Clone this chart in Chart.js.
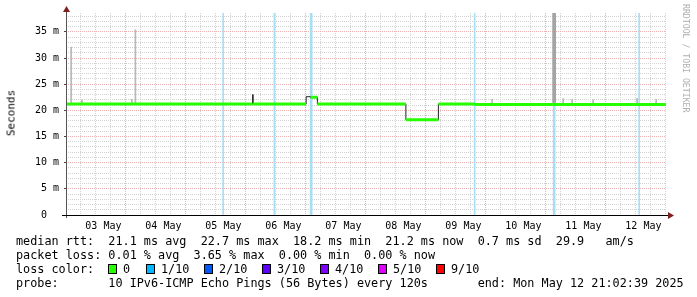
<!DOCTYPE html>
<html>
<head>
<meta charset="utf-8">
<script src="https://cdn.jsdelivr.net/npm/chart.js@4.4.1/dist/chart.umd.min.js"></script>
<style>
  body { margin: 0; background: #fff; }
  #wrap { position: relative; width: 697px; height: 297px; overflow: hidden; font-family: "DejaVu Sans Mono", monospace; color: #000; }
  #chart { position: absolute; left: 0; top: 0; }
  .ylabel { position: absolute; left: 11px; top: 113px; transform: translate(-50%, -50%) rotate(-90deg); font: normal 11px "DejaVu Sans Mono", monospace; color: #000; white-space: nowrap; }
  .credit { position: absolute; left: 681px; top: 4px; writing-mode: vertical-rl; font-size: 8.2px; color: #b0b0b0; white-space: nowrap; }
  .leg { position: absolute; font-size: 11.8px; white-space: pre; line-height: 14px; }
  .sw { position: absolute; top: 264px; width: 7px; height: 8px; border: 1px solid #000; }
</style>
</head>
<body>
<div id="wrap">
  <canvas id="chart" width="697" height="297"></canvas>
  <div class="ylabel">Seconds</div>
  <div class="credit">RRDTOOL / TOBI OETIKER</div>
  <div class="leg" style="left:16px;top:234px">median rtt:  21.1 ms avg  22.7 ms max  18.2 ms min  21.2 ms now  0.7 ms sd  29.9   am/s</div>
  <div class="leg" style="left:16px;top:248px">packet loss: 0.01 % avg  3.65 % max  0.00 % min  0.00 % now</div>
  <div class="leg" style="left:16px;top:262px">loss color:</div>
  <div id="losslegend"></div>
  <div class="leg" style="left:16px;top:276px">probe:       10 IPv6-ICMP Echo Pings (56 Bytes) every 120s       end: Mon May 12 21:02:39 2025</div>
</div>
<script>
// x = hours since 03 May 00:00, y = milliseconds
const X_MIN = -2.956;
const X_MAX = 237.044;
const Y_MAX = 38.6;

const dayLabels = ['03 May', '04 May', '05 May', '06 May', '07 May', '08 May', '09 May', '10 May', '11 May', '12 May'];

// median rtt, one value per step (start hour of the step)
const stepTimes  = [-2.956, 71.7, 71.9, 93.1, 94.9, 97.6, 133.0, 146.0, 160.5];
const stepValues = [21.2,   23.0, 21.2, 22.6, 22.5, 21.2, 18.2,  21.2,  21.1];
const stepLoss0  = [true,   false, true, false, true, true, true, true, true];

// hours with some packet loss (1/10)
const lossTimes     = [59.9, 80.4, 160.5, 226.3];
const lossTimesWide = [95.1, 192.3];

// smoke (spread of the pings)
const smokeTimes = [-0.9, 3.4, 23.4, 24.8, 167.5, 195.9, 199.5, 207.9, 225.5, 233.1];
const smokeLow   = [21.4, 21.4, 21.4, 21.4, 21.4, 21.4, 21.4, 21.4, 21.4, 21.4];
const smokeHigh  = [32.1, 22.0, 22.1, 35.4, 22.1, 22.2, 22.1, 22.0, 22.3, 22.1];
const bigSmokeTimes = [192.3];
const bigSmokeLow   = [21.5];
const bigSmokeHigh  = [38.6];

const lossLabels = ['0', '1/10', '2/10', '3/10', '4/10', '5/10', '9/10'];
const lossColors = ['#26ff00', '#00b8ff', '#0059ff', '#5e00ff', '#7e00ff', '#dd00ff', '#ff0000'];
const lossLegendX = [108, 146, 204, 262, 320, 378, 436];

// legend boxes
const ll = document.getElementById('losslegend');
lossLabels.forEach((lab, i) => {
  const b = document.createElement('div');
  b.className = 'sw';
  b.style.left = lossLegendX[i] + 'px';
  b.style.background = lossColors[i];
  ll.appendChild(b);
  const t = document.createElement('div');
  t.className = 'leg';
  t.style.left = (lossLegendX[i] + 15) + 'px';
  t.style.top = '262px';
  t.textContent = lab;
  ll.appendChild(t);
});

// black median line (stepped)
const medianData = stepTimes.map((t, i) => ({x: t, y: stepValues[i]}));
medianData.push({x: X_MAX, y: stepValues[stepValues.length - 1]});

// green segments only where loss is 0
const greenData = [];
stepTimes.forEach((t, i) => {
  if (!stepLoss0[i]) return;
  const end = i + 1 < stepTimes.length ? stepTimes[i + 1] : X_MAX;
  greenData.push({x: t, y: stepValues[i]}, {x: end, y: stepValues[i]}, {x: end, y: null});
});

const MINOR = '#d2d2d2';
const MAJOR = '#ebb0b0';

const axesPlugin = {
  id: 'rrdaxes',
  afterDraw(chart) {
    const {ctx, chartArea: a} = chart;
    ctx.save();
    // y axis
    ctx.strokeStyle = '#555';
    ctx.lineWidth = 1;
    ctx.beginPath();
    ctx.moveTo(a.left + 0.5, a.bottom + 3);
    ctx.lineTo(a.left + 0.5, a.top - 4);
    ctx.stroke();
    // x axis
    ctx.strokeStyle = '#000';
    ctx.beginPath();
    ctx.moveTo(a.left - 4, a.bottom + 0.5);
    ctx.lineTo(a.right + 4, a.bottom + 0.5);
    ctx.stroke();
    // arrows
    ctx.fillStyle = '#7f1f1f';
    ctx.beginPath();
    ctx.moveTo(a.left - 3, a.top - 1);
    ctx.lineTo(a.left + 0.5, a.top - 7);
    ctx.lineTo(a.left + 4, a.top - 1);
    ctx.closePath();
    ctx.fill();
    ctx.beginPath();
    ctx.moveTo(a.right + 2, a.bottom - 3);
    ctx.lineTo(a.right + 8, a.bottom + 0.5);
    ctx.lineTo(a.right + 2, a.bottom + 4);
    ctx.closePath();
    ctx.fill();
    ctx.restore();
  }
};

new Chart(document.getElementById('chart'), {
  type: 'line',
  data: {
    datasets: [
      {
        type: 'bar',
        data: lossTimes.map(t => ({x: t, y: Y_MAX})),
        backgroundColor: '#a8def4',
        barThickness: 1,
        grouped: false,
        order: 6
      },
      {
        type: 'bar',
        data: lossTimesWide.map(t => ({x: t, y: Y_MAX})),
        backgroundColor: '#a8def4',
        barThickness: 2,
        grouped: false,
        order: 5
      },
      {
        type: 'bar',
        data: smokeTimes.map((t, i) => ({x: t, y: [smokeLow[i], smokeHigh[i]]})),
        backgroundColor: '#b8b8b8',
        barThickness: 1,
        grouped: false,
        order: 4
      },
      {
        type: 'bar',
        data: bigSmokeTimes.map((t, i) => ({x: t, y: [bigSmokeLow[i], bigSmokeHigh[i]]})),
        backgroundColor: '#a4a4a4',
        barThickness: 3,
        grouped: false,
        order: 3
      },
      {
        data: medianData,
        borderColor: '#202020',
        borderWidth: 1,
        stepped: true,
        pointRadius: 0,
        order: 2
      },
      {
        data: greenData,
        borderColor: '#26ff00',
        borderWidth: 3,
        borderCapStyle: 'butt',
        spanGaps: false,
        pointRadius: 0,
        order: 1
      }
    ]
  },
  options: {
    responsive: false,
    animation: false,
    devicePixelRatio: 1,
    layout: {padding: {top: 13, right: 31, left: 0, bottom: 0}},
    plugins: {legend: {display: false}, tooltip: {enabled: false}},
    scales: {
      x: {
        type: 'linear',
        min: X_MIN,
        max: X_MAX,
        offset: false,
        afterBuildTicks(scale) {
          const t = [];
          for (let h = 0; h <= X_MAX; h += 6) t.push({value: h});
          scale.ticks = t;
        },
        afterFit(scale) { scale.height = 82; },
        border: {display: false, dash: [1, 1]},
        grid: {
          drawTicks: false,
          color: c => (c.tick && c.tick.value % 24 === 0) ? MAJOR : MINOR
        },
        ticks: {
          autoSkip: false,
          maxRotation: 0,
          padding: 5,
          color: '#000',
          font: {family: 'DejaVu Sans Mono', size: 10},
          callback: v => (v % 24 === 12) ? dayLabels[(v - 12) / 24] : ''
        }
      },
      y: {
        min: 0,
        max: Y_MAX,
        afterBuildTicks(scale) {
          const t = [];
          for (let v = 0; v <= 38; v++) t.push({value: v});
          scale.ticks = t;
        },
        afterFit(scale) { scale.width = 66; },
        border: {display: false, dash: [1, 1]},
        grid: {
          drawTicks: true,
          tickLength: 2,
          tickBorderDash: [],
          tickColor: c => (c.tick && c.tick.value % 5 === 0) ? '#444' : 'rgba(0,0,0,0)',
          color: c => (c.tick && c.tick.value % 5 === 0) ? MAJOR : MINOR
        },
        ticks: {
          autoSkip: false,
          padding: 5,
          color: '#000',
          font: {family: 'DejaVu Sans Mono', size: 10},
          callback: v => (v % 5 === 0) ? (v === 0 ? '0  ' : v + ' m') : ''
        }
      }
    }
  },
  plugins: [axesPlugin]
});
</script>
</body>
</html>
